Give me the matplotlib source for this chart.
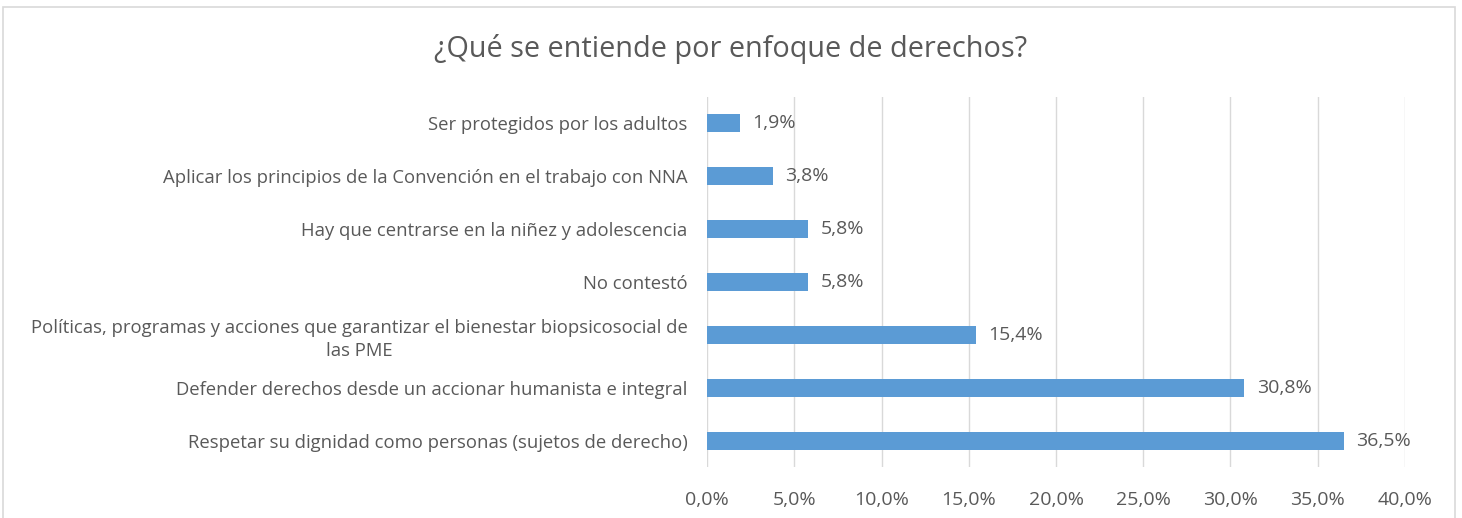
import matplotlib.pyplot as plt
from matplotlib.patches import Rectangle
from matplotlib.ticker import MultipleLocator, FuncFormatter

# data, bottom to top as drawn
categories = [
    "Respetar su dignidad como personas (sujetos de derecho)",
    "Defender derechos desde un accionar humanista e integral",
    "Políticas, programas y acciones que garantizar el bienestar biopsicosocial de\nlas PME",
    "No contestó",
    "Hay que centrarse en la niñez y adolescencia",
    "Aplicar los principios de la Convención en el trabajo con NNA",
    "Ser protegidos por los adultos",
]
values = [36.5, 30.8, 15.4, 5.8, 5.8, 3.8, 1.9]
title = "¿Qué se entiende por enfoque de derechos?"

plt.rcParams['font.family'] = ['Open Sans', 'DejaVu Sans']
text_col = '#595959'

fig = plt.figure(figsize=(14.62, 5.18), dpi=100)
ax = fig.add_axes([0.4836, 0.0975, 0.961 - 0.4836, 0.8137 - 0.0975])

pos = list(range(len(categories)))
ax.barh(pos, values, height=0.34, color='#5B9BD5', zorder=3)

for y, v in zip(pos, values):
    ax.text(v + 0.7, y, f"{v:.1f}%".replace('.', ','), va='center', ha='left',
            fontsize=14, color=text_col)

ax.set_xlim(0, 40)
ax.set_ylim(-0.5, len(categories) - 0.5)
ax.xaxis.set_major_locator(MultipleLocator(5))
ax.xaxis.set_major_formatter(FuncFormatter(lambda x, p: f"{x:.1f}%".replace('.', ',')))
ax.set_yticks(pos)
ax.set_yticklabels(categories, multialignment='center', linespacing=1.35)

ax.tick_params(axis='both', length=0, colors=text_col)
ax.tick_params(axis='x', pad=17, labelsize=14)
ax.tick_params(axis='y', pad=14, labelsize=13.3)
ax.grid(axis='x', color='#D9D9D9', linewidth=1, zorder=0)
for s in ax.spines.values():
    s.set_visible(False)

fig.text(0.5, 0.905, title, ha='center', va='center', fontsize=20.8, color=text_col)

# chart border
fig.patches.append(Rectangle((0.002, -0.01), 0.993, 0.9965, transform=fig.transFigure,
                             fill=False, edgecolor='#D9D9D9', linewidth=1.2))

fig.savefig('out.png', dpi=100)
